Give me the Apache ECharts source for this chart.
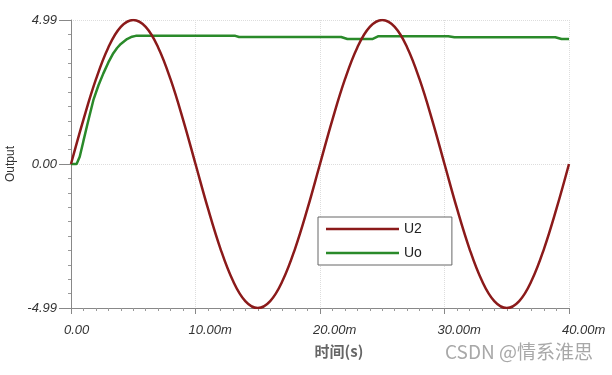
<!DOCTYPE html>
<html>
<head>
<meta charset="utf-8">
<script src="https://cdn.jsdelivr.net/npm/echarts@6/dist/echarts.min.js"></script>
<style>
html,body{margin:0;padding:0;background:#fff;}
#chart{width:612px;height:375px;}
</style>
</head>
<body>
<div id="chart"></div>
<script>
// time in ms
const timeU2 = [0,1,2,3,4,5,6,7,8,9,10,11,12,13,14,15,16,17,18,19,20,21,22,23,24,25,26,27,28,29,30,31,32,33,34,35,36,37,38,39,40];
const valuesU2 = [0,1.54,2.93,4.04,4.75,4.99,4.75,4.04,2.93,1.54,0,-1.54,-2.93,-4.04,-4.75,-4.99,-4.75,-4.04,-2.93,-1.54,0,1.54,2.93,4.04,4.75,4.99,4.75,4.04,2.93,1.54,0,-1.54,-2.93,-4.04,-4.75,-4.99,-4.75,-4.04,-2.93,-1.54,0];
const timeUo = [0,0.45,0.7,1.0,1.27,1.5,1.8,2.2,2.6,3.0,3.4,3.7,4.0,4.5,4.9,5.2,13.2,13.5,21.7,22.2,24.2,24.7,30.3,30.8,38.9,39.4,40];
const valuesUo = [0,0,0.25,0.8,1.29,1.7,2.22,2.72,3.14,3.52,3.84,4.02,4.16,4.33,4.41,4.44,4.44,4.40,4.40,4.33,4.33,4.43,4.43,4.39,4.39,4.33,4.33];
const xTicks = [0,10,20,30,40];
const yTicks = [-4.99,0,4.99];
const seriesNames = ['U2','Uo'];

const pairs = (t, v) => t.map((x, i) => [x, v[i]]);

const chart = echarts.init(document.getElementById('chart'), null, {renderer:'canvas'});
const labelFont = {fontFamily:'Liberation Sans', fontStyle:'italic', fontSize:13, color:'#333'};
const lineIcon = 'path://M0,0 L73,0 L73,2.5 L0,2.5 Z';
chart.setOption({
  animation:false,
  backgroundColor:'#fff',
  grid:{left:71, right:43, top:20, bottom:67, containLabel:false, outerBoundsMode:'none'},
  xAxis:{
    type:'value', min:xTicks[0], max:xTicks[xTicks.length-1], interval:10,
    name:'时间(s)', nameLocation:'middle', nameGap:36,
    nameTextStyle:{fontFamily:'Noto Sans CJK SC', fontSize:15, fontWeight:'bold', color:'#666', padding:[0,0,0,38]},
    axisLine:{show:true, onZero:false, lineStyle:{color:'#888', width:1}},
    axisTick:{show:true, length:6, lineStyle:{color:'#888'}},
    minorTick:{show:true, splitNumber:10, length:3, lineStyle:{color:'#999'}},
    axisLabel:Object.assign({margin:16, align:'left', padding:[0,0,0,-7],
      formatter:v => v === 0 ? '0.00' : v.toFixed(2) + 'm'}, labelFont),
    splitLine:{show:true, lineStyle:{color:'#ddd', type:'dotted'}}
  },
  yAxis:{
    type:'value', min:yTicks[0], max:yTicks[2], interval:4.99,
    name:'Output', nameLocation:'middle', nameGap:52,
    nameTextStyle:{fontFamily:'Liberation Sans', fontSize:12, color:'#333'},
    axisLine:{show:true, onZero:false, lineStyle:{color:'#888', width:1}},
    axisTick:{show:true, length:12, lineStyle:{color:'#888'}},
    minorTick:{show:true, splitNumber:10, length:3, lineStyle:{color:'#999'}},
    axisLabel:Object.assign({margin:14, formatter:v => v.toFixed(2)}, labelFont),
    splitLine:{show:true, lineStyle:{color:'#ddd', type:'dotted'}}
  },
  legend:{
    orient:'vertical', left:318, top:217,
    data:[{name:seriesNames[0], icon:lineIcon},{name:seriesNames[1], icon:lineIcon}],
    itemWidth:73, itemHeight:14, itemGap:10,
    padding:[5,30,5,8],
    borderColor:'#666', borderWidth:1, backgroundColor:'#fff',
    textStyle:{fontFamily:'Liberation Sans', fontSize:14, color:'#222'}
  },
  series:[
    {name:seriesNames[1], type:'line', data:pairs(timeUo, valuesUo), showSymbol:false, symbol:'none',
     smooth:false, z:2,
     lineStyle:{color:'#2a8a2a', width:2.5}, itemStyle:{color:'#2a8a2a'}},
    {name:seriesNames[0], type:'line', data:pairs(timeU2, valuesU2), showSymbol:false, symbol:'none',
     smooth:0.4, z:3,
     lineStyle:{color:'#8b1a1a', width:2.5}, itemStyle:{color:'#8b1a1a'}}
  ],
  graphic:[
    {type:'text', left:445, top:342, style:{text:'CSDN @情系淮思', fontFamily:'Noto Sans CJK SC', fontSize:19, fill:'#a8a8a8'}}
  ]
});
</script>
</body>
</html>
